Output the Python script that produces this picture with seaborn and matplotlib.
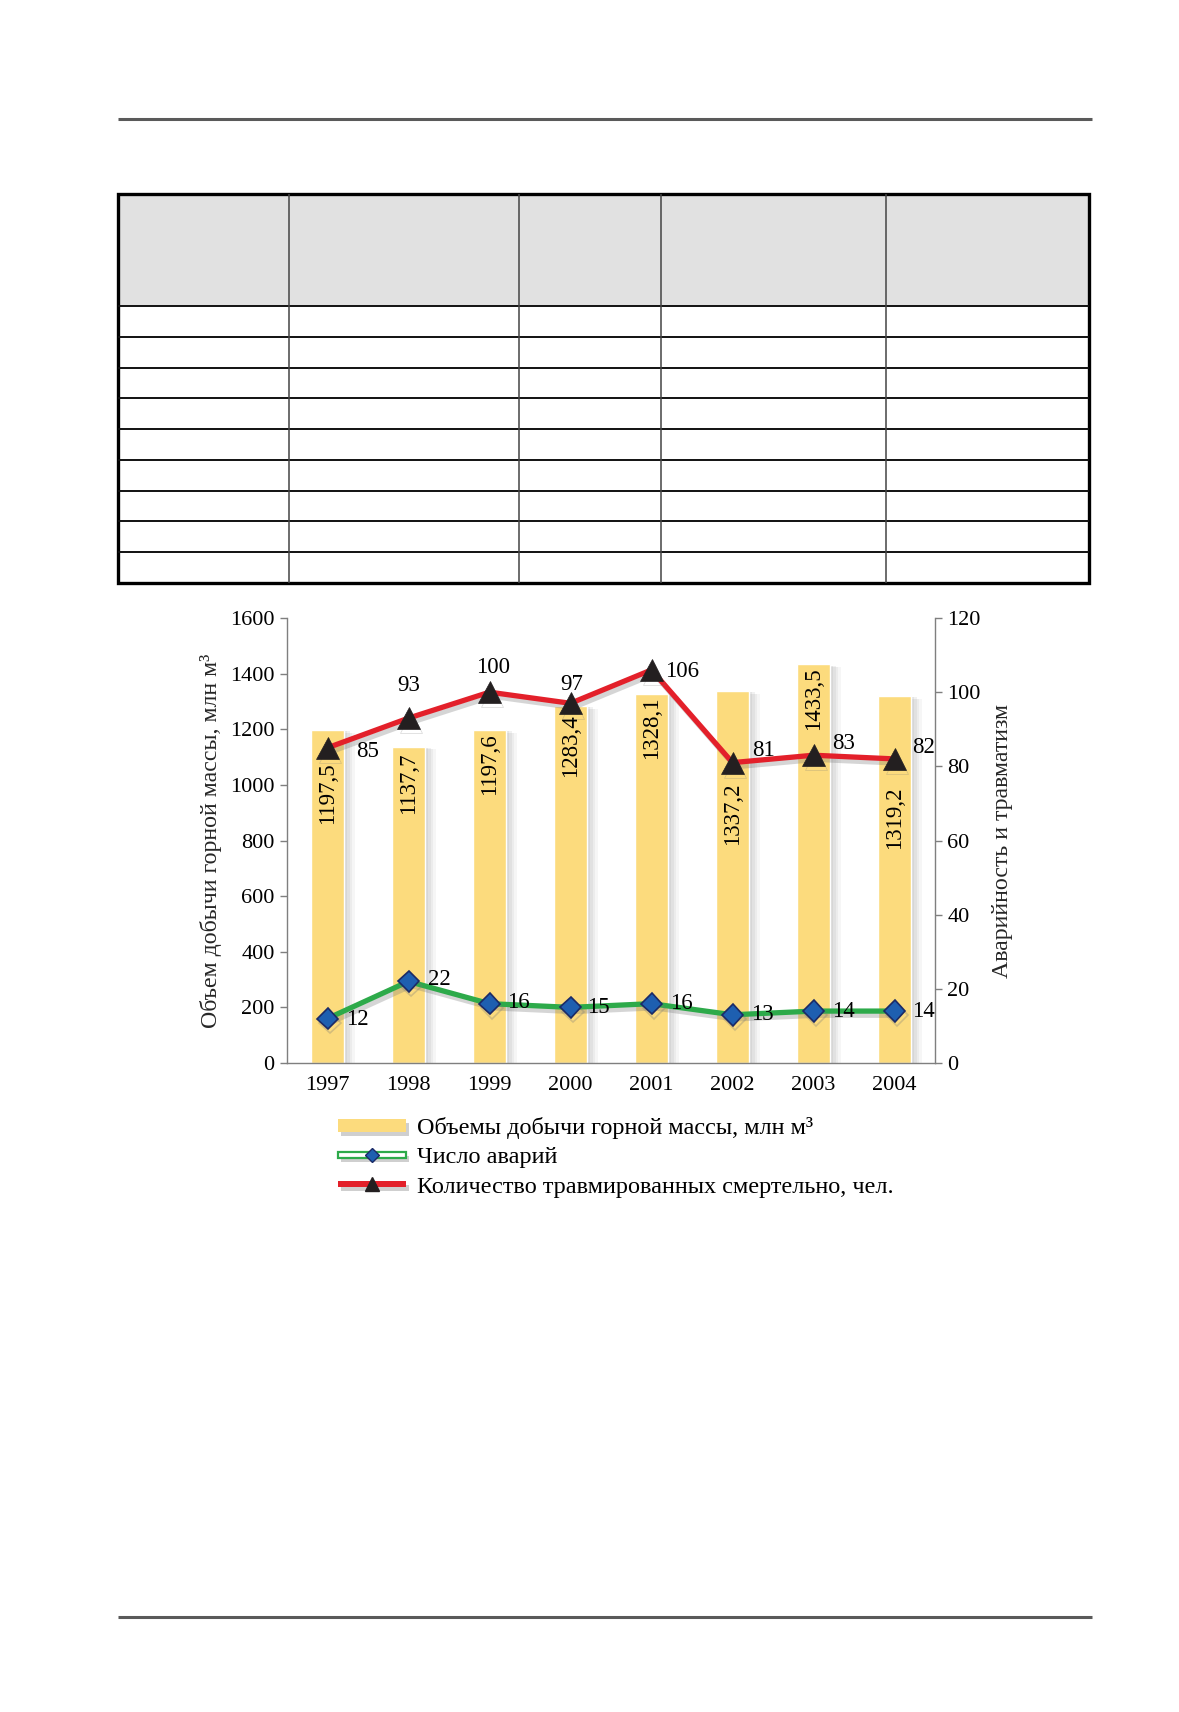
import matplotlib
matplotlib.use("Agg")
import matplotlib.pyplot as plt
import seaborn as sns
import numpy as np
import pandas as pd
from matplotlib import patheffects as pe
from matplotlib.patches import Rectangle
from matplotlib.lines import Line2D
from matplotlib.legend_handler import HandlerBase

# ---------------- data ----------------
years = ["1997", "1998", "1999", "2000", "2001", "2002", "2003", "2004"]
volume = [1197.5, 1137.7, 1197.6, 1283.4, 1328.1, 1337.2, 1433.5, 1319.2]
volume_labels = ["1197,5", "1137,7", "1197,6", "1283,4", "1328,1", "1337,2", "1433,5", "1319,2"]
accidents = [12, 22, 16, 15, 16, 13, 14, 14]
fatalities = [85, 93, 100, 97, 106, 81, 83, 82]
left_ticks = [0, 200, 400, 600, 800, 1000, 1200, 1400, 1600]
right_ticks = [0, 20, 40, 60, 80, 100, 120]

label_volume = "Объем добычи горной массы, млн м³"
label_right = "Аварийность и травматизм"
legend_labels = ["Объемы добычи горной массы, млн м³",
                 "Число аварий",
                 "Количество травмированных смертельно, чел."]

# ---------------- style ----------------
YELLOW = "#FCDB7D"
RED = "#E3202A"
GREEN = "#2DAA4A"
BLUE = "#1E5FB0"
NAVY = "#1B2A66"
BLACK = "#231F20"
SPINE = "#7F7F7F"

# label offsets (pixels) relative to points
fat_off = [(40, -4), (0, 33), (4, 25), (1, 19), (31, -2), (31, 12), (30, 12), (29, 11)]
acc_off = [(30, -1), (31, 2), (29, 1), (28, 0), (30, 0), (30, 0), (30, 0), (29, 0)]
bar_lab_off = [-32, -6, -3, -8, -3, -91, -3, -90]

sns.set_theme(style="white")
plt.rcParams["font.family"] = ["Liberation Serif", "DejaVu Serif"]
plt.rcParams["text.color"] = "black"

W, H = 1179, 1712
fig = plt.figure(figsize=(W / 100, H / 100), dpi=100)
fig.patch.set_facecolor("white")

# ---------------- page decoration (rules + empty table) ----------------
page = fig.add_axes([0, 0, 1, 1], zorder=0)
page.set_xlim(0, W)
page.set_ylim(H, 0)
page.axis("off")
page.hlines([119, 1617], 118, 1092, color="#5A5A5A", lw=2.2)
tx0, tx1, ty0, ty1, thead = 118, 1089, 194, 583, 306
page.add_patch(Rectangle((tx0, ty0), tx1 - tx0, thead - ty0, facecolor="#E1E1E1", edgecolor="none"))
row_lines = np.linspace(thead, ty1, 10)[:-1]
page.hlines(row_lines, tx0, tx1, color="#111111", lw=1.4)
page.vlines([289, 519, 661, 886], ty0, ty1, color="#444444", lw=1.1)
page.add_patch(Rectangle((tx0, ty0), tx1 - tx0, ty1 - ty0, facecolor="none", edgecolor="black", lw=2.4))

# ---------------- chart ----------------
ax = fig.add_axes([287 / W, 1 - 1063 / H, (935 - 287) / W, (1063 - 618) / H], zorder=2)
ax.patch.set_alpha(0)
df = pd.DataFrame({"year": years, "volume": volume})
sns.barplot(data=df, x="year", y="volume", color=YELLOW, saturation=1, width=0.41, ax=ax, zorder=2)
for bar in ax.patches:
    bar.set_path_effects([
        pe.SimplePatchShadow(offset=(8, -2), shadow_rgbFace="#888888", alpha=0.07),
        pe.SimplePatchShadow(offset=(6, -2), shadow_rgbFace="#888888", alpha=0.09),
        pe.SimplePatchShadow(offset=(4, -1), shadow_rgbFace="#888888", alpha=0.11),
        pe.SimplePatchShadow(offset=(2, -1), shadow_rgbFace="#888888", alpha=0.12),
        pe.Normal()])

ax.set_ylim(0, 1600)
ax.set_yticks(left_ticks)
ax.set_yticklabels([str(t) for t in left_ticks], fontsize=16)
ax.set_xticks(range(len(years)))
ax.set_xticklabels(years, fontsize=16)
ax.set_xticks(np.arange(-0.5, len(years), 1.0), minor=True)
ax.tick_params(axis="x", which="major", length=0, pad=9, colors="black")
ax.tick_params(axis="x", which="minor", length=6, width=1, color=SPINE, direction="out")
ax.tick_params(axis="y", length=5, width=1, color=SPINE, direction="out", pad=4, labelcolor="black")
ax.set_xlabel("")
ax.set_ylabel(label_volume, fontsize=17.2, labelpad=6)
for s in ["top", "right"]:
    ax.spines[s].set_visible(False)
for s in ["left", "bottom"]:
    ax.spines[s].set_color(SPINE)
    ax.spines[s].set_linewidth(1)

for i, (v, lab) in enumerate(zip(volume, volume_labels)):
    ax.annotate(lab, (i, v), xytext=(0, bar_lab_off[i]), textcoords="offset pixels",
                rotation=90, ha="center", va="top", fontsize=16.5, zorder=3)

ax2 = ax.twinx()
pos = np.arange(len(years))
shadow = [pe.SimpleLineShadow(offset=(2, -3), shadow_color="#777777", alpha=0.3), pe.Normal()]
sns.lineplot(x=pos, y=accidents, ax=ax2, color=GREEN, lw=3.8, marker="D", ms=11,
             markerfacecolor=BLUE, markeredgecolor=NAVY, markeredgewidth=1.2,
             sort=False, path_effects=shadow, zorder=4)
sns.lineplot(x=pos, y=fatalities, ax=ax2, color=RED, lw=3.8, marker="^", ms=16,
             markerfacecolor=BLACK, markeredgecolor=BLACK, markeredgewidth=0.5,
             sort=False, path_effects=shadow, zorder=5)
ax2.set_ylim(0, 120)
ax2.set_yticks(right_ticks)
ax2.set_yticklabels([str(t) for t in right_ticks], fontsize=16)
ax2.tick_params(axis="y", length=5, width=1, color=SPINE, direction="out", pad=4, labelcolor="black")
ax2.set_ylabel(label_right, fontsize=17.2, labelpad=8)
for s in ["top", "left", "bottom"]:
    ax2.spines[s].set_visible(False)
ax2.spines["right"].set_color(SPINE)
ax2.spines["right"].set_linewidth(1)
ax.set_xlim(-0.5, len(years) - 0.5)
ax2.set_xlim(-0.5, len(years) - 0.5)

for i, v in enumerate(fatalities):
    ax2.annotate(str(v), (i, v), xytext=fat_off[i], textcoords="offset pixels",
                 ha="center", va="center", fontsize=16.5, zorder=6)
for i, v in enumerate(accidents):
    ax2.annotate(str(v), (i, v), xytext=acc_off[i], textcoords="offset pixels",
                 ha="center", va="center", fontsize=16.5, zorder=6)

# ---------------- legend ----------------
class BandHandler(HandlerBase):
    def __init__(self, band_h, face, edge="none", lw=0.0, marker=None, mface=None, medge=None, ms=0):
        super().__init__()
        self.band_h, self.face, self.edge, self.lw = band_h, face, edge, lw
        self.marker, self.mface, self.medge, self.ms = marker, mface, medge, ms

    def create_artists(self, legend, orig_handle, xdescent, ydescent, width, height, fontsize, trans):
        cy = height / 2 - ydescent
        rect = Rectangle((-xdescent, cy - self.band_h / 2), width, self.band_h,
                         facecolor=self.face, edgecolor=self.edge, linewidth=self.lw, transform=trans)
        rect.set_path_effects([pe.SimplePatchShadow(offset=(2, -3), shadow_rgbFace="#777777", alpha=0.35),
                               pe.Normal()])
        arts = [rect]
        if self.marker:
            m = Line2D([-xdescent + width / 2], [cy], marker=self.marker, ms=self.ms, ls="none",
                       markerfacecolor=self.mface, markeredgecolor=self.medge, transform=trans)
            arts.append(m)
        return arts

h_bar, h_acc, h_fat = Line2D([], []), Line2D([], []), Line2D([], [])
hmap = {
    h_bar: BandHandler(9, YELLOW),
    h_acc: BandHandler(4.5, "white", GREEN, 1.6, "D", BLUE, NAVY, 7),
    h_fat: BandHandler(4.3, RED, "none", 0, "^", BLACK, BLACK, 10),
}
fig.legend([h_bar, h_acc, h_fat], legend_labels, handler_map=hmap,
           loc="upper left", bbox_to_anchor=(338 / W, 1 - 1117 / H),
           frameon=False, fontsize=17.5, handlelength=2.8, handletextpad=0.47,
           labelspacing=0.3, borderpad=0, borderaxespad=0)

fig.savefig("out.png", dpi=100, facecolor="white")
